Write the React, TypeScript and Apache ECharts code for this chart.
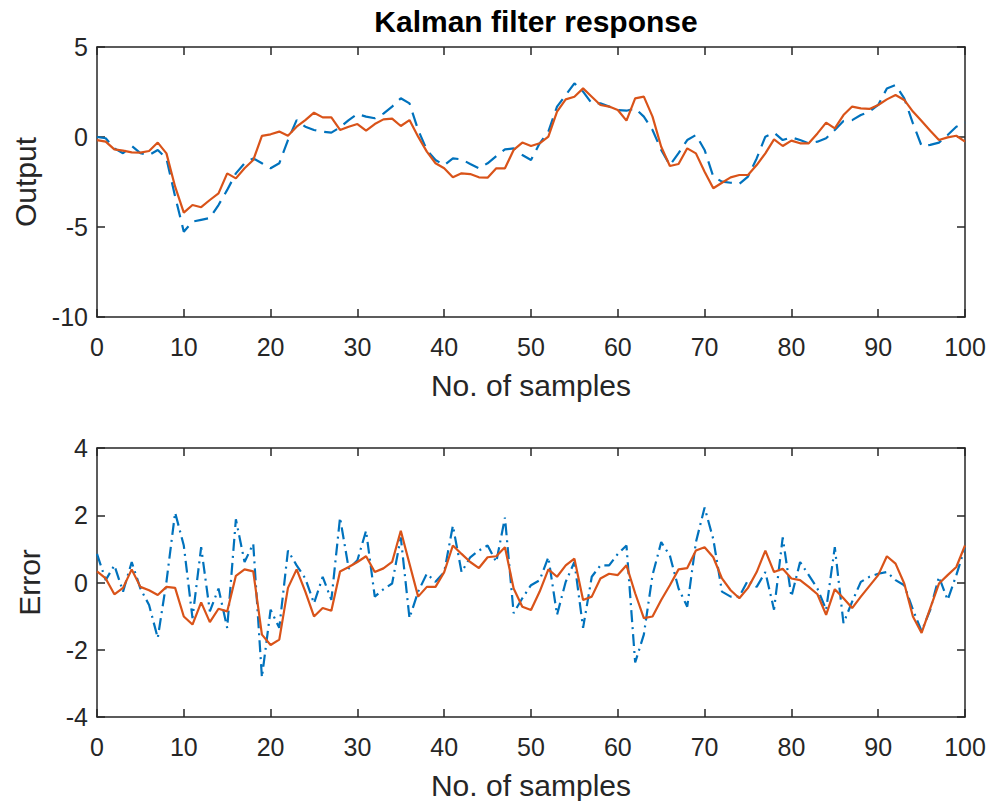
import React, { useEffect, useRef } from "react";
import * as echarts from "echarts";

// sample index 0..100
const samples: number[] = Array.from({ length: 101 }, (_, i) => i);

// Top panel: true output (blue dashed) and Kalman estimate (orange)
const outputTrue: number[] = [
  0.0, -0.07, -0.63, -0.9, -0.5, -0.9, -1.0, -0.72, -1.2, -3.3,
  -5.26, -4.7, -4.6, -4.5, -3.78, -2.94, -2.02, -1.46, -1.19, -1.46,
  -1.74, -1.46, -0.17, 0.94, 0.57, 0.39, 0.3, 0.24, 0.54, 0.94,
  1.28, 1.13, 1.04, 1.3, 1.69, 2.15, 1.87, 0.39, -0.72, -1.28,
  -1.56, -1.19, -1.24, -1.5, -1.74, -1.46, -1.06, -0.69, -0.63, -1.0,
  -1.28, -0.35, 0.3, 1.69, 2.33, 2.98, 2.52, 1.87, 1.87, 1.69,
  1.5, 1.46, 1.59, 1.13, 0.39, -0.72, -1.56, -0.9, -0.17, 0.11,
  -0.72, -2.2, -2.48, -2.54, -2.61, -2.2, -1.19, 0.02, 0.24, -0.17,
  -0.02, -0.17, -0.35, -0.26, -0.07, 0.39, 0.89, 0.94, 1.22, 1.41,
  1.78, 2.7, 2.89, 2.15, 0.76, -0.5, -0.44, -0.31, 0.11, 0.57,
  0.8,
];
const outputEst: number[] = [
  -0.17, -0.26, -0.69, -0.76, -0.85, -0.87, -0.78, -0.31, -0.91, -2.76,
  -4.2, -3.78, -3.9, -3.5, -3.13, -2.02, -2.3, -1.74, -1.28, 0.06,
  0.15, 0.3, 0.07, 0.57, 0.94, 1.35, 1.09, 1.09, 0.39, 0.57,
  0.72, 0.35, 0.72, 0.98, 1.02, 0.61, 0.94, 0.02, -0.81, -1.46,
  -1.74, -2.24, -2.02, -2.06, -2.24, -2.26, -1.74, -1.74, -0.72, -0.31,
  -0.5, -0.35, 0.02, 1.41, 2.09, 2.24, 2.7, 2.24, 1.78, 1.69,
  1.5, 0.91, 2.15, 2.24, 1.13, -0.54, -1.61, -1.5, -0.63, -0.91,
  -1.93, -2.85, -2.54, -2.24, -2.11, -2.11, -1.56, -0.91, -0.13, -0.5,
  -0.2, -0.35, -0.35, 0.2, 0.8, 0.48, 1.22, 1.69, 1.59, 1.56,
  1.78, 2.09, 2.33, 2.06, 1.41, 0.89, 0.35, -0.17, -0.02, 0.07,
  -0.26,
];

// Bottom panel: measurement error (blue dash-dot) and estimation error (orange)
const errorMeas: number[] = [
  0.85, 0.07, 0.51, -0.27, 0.61, -0.18, -0.67, -1.65, 0.02, 2.08,
  1.1, -1.06, 1.05, -0.86, -0.18, -1.35, 1.88, 0.61, 1.15, -2.82,
  -0.81, -1.35, 0.95, 0.51, 0.12, -0.62, 0.17, -0.52, 1.93, 0.41,
  0.66, 1.54, -0.42, -0.2, -0.03, 1.34, -1.06, -0.27, 0.26, 0.02,
  0.31, 1.69, 0.31, 0.75, 0.95, 1.1, 0.61, 1.93, -0.91, -0.47,
  -0.08, 0.07, 0.75, -0.96, 0.02, 0.61, -1.35, 0.17, 0.51, 0.51,
  0.85, 1.1, -2.38, -1.55, 0.22, 1.2, 0.8, -0.18, -0.72, 1.2,
  2.23, 1.29, -0.27, -0.42, -0.42, 0.07, -0.13, 0.31, -0.81, 1.34,
  -0.42, 0.61, 0.22, -0.18, -0.81, 1.05, -1.21, -0.57, 0.02, 0.17,
  0.26, 0.31, 0.07, -0.08, -0.81, -1.45, -0.81, 0.17, -0.52, 0.22,
  1.05,
];
const errorEst: number[] = [
  0.33, 0.12, -0.35, -0.16, 0.39, -0.13, -0.23, -0.37, -0.13, -0.16,
  -1.01, -1.25, -0.59, -1.18, -0.78, -0.86, 0.2, 0.39, 0.33, -1.55,
  -1.86, -1.7, -0.16, 0.39, -0.27, -1.01, -0.76, -0.84, 0.33, 0.46,
  0.61, 0.78, 0.31, 0.42, 0.61, 1.54, 0.56, -0.42, -0.13, -0.13,
  0.31, 1.1, 0.85, 0.61, 0.43, 0.75, 0.78, 1.05, -0.18, -0.72,
  -0.82, -0.27, 0.39, 0.17, 0.51, 0.71, -0.52, -0.42, 0.12, 0.26,
  0.22, 0.51, -0.32, -1.06, -1.01, -0.52, -0.08, 0.39, 0.43, 0.95,
  1.05, 0.75, 0.12, -0.23, -0.47, -0.16, 0.31, 0.95, 0.31, 0.41,
  0.12, 0.07, -0.13, -0.35, -0.96, -0.2, -0.47, -0.76, -0.42, -0.1,
  0.22, 0.78, 0.56, -0.03, -1.01, -1.5, -0.76, -0.03, 0.22, 0.46,
  1.1,
];

const titleText = "Kalman filter response";
const xName = "No. of samples";
const yNameTop = "Output";
const yNameBottom = "Error";

const BLUE = "#0072BD";
const ORANGE = "#D95319";
const AX = "#262626";
const FONT = "'Liberation Sans', Arial, Helvetica, sans-serif";

const TICK_FS = 25;
const NAME_FS = 30;
const TITLE_FS = 30;

function pairs(ys: number[]) {
  return samples.map((x, i) => [x, ys[i]]);
}

export default function App() {
  const ref = useRef<HTMLDivElement>(null);
  useEffect(() => {
    if (!ref.current) return;
    const chart = echarts.init(ref.current, undefined, { renderer: "svg" });

    const lineSt = { color: AX, width: 1.5 };
    const mainX = (gridIndex: number) => ({
      type: "value",
      gridIndex,
      min: 0,
      max: 100,
      interval: 10,
      position: "bottom",
      name: xName,
      nameLocation: "middle",
      nameGap: 53,
      nameTextStyle: { fontSize: NAME_FS, color: AX, fontFamily: FONT },
      axisLine: { show: true, onZero: false, lineStyle: lineSt },
      axisTick: { show: true, inside: true, length: 8, lineStyle: lineSt },
      axisLabel: { show: true, fontSize: TICK_FS, color: AX, fontFamily: FONT, margin: 17 },
      splitLine: { show: false },
    });
    const topX = (gridIndex: number) => ({
      type: "value",
      gridIndex,
      min: 0,
      max: 100,
      interval: 10,
      position: "top",
      axisLine: { show: true, onZero: false, lineStyle: lineSt },
      axisTick: { show: true, inside: true, length: 8, lineStyle: lineSt },
      axisLabel: { show: false },
      splitLine: { show: false },
    });
    const mainY = (gridIndex: number, min: number, max: number, interval: number, name: string) => ({
      type: "value",
      gridIndex,
      min,
      max,
      interval,
      position: "left",
      name,
      nameLocation: "middle",
      nameGap: 53,
      nameRotate: 90,
      nameTextStyle: { fontSize: NAME_FS, color: AX, fontFamily: FONT },
      axisLine: { show: true, onZero: false, lineStyle: lineSt },
      axisTick: { show: true, inside: true, length: 8, lineStyle: lineSt },
      axisLabel: { show: true, fontSize: TICK_FS, color: AX, fontFamily: FONT, margin: 9 },
      splitLine: { show: false },
    });
    const rightY = (gridIndex: number, min: number, max: number, interval: number) => ({
      type: "value",
      gridIndex,
      min,
      max,
      interval,
      position: "right",
      axisLine: { show: true, onZero: false, lineStyle: lineSt },
      axisTick: { show: true, inside: true, length: 8, lineStyle: lineSt },
      axisLabel: { show: false },
      splitLine: { show: false },
    });

    chart.setOption({
      animation: false,
      backgroundColor: "#ffffff",
      title: {
        text: titleText,
        left: 531,
        top: 1,
        textAlign: "center",
        textStyle: { fontSize: TITLE_FS, fontWeight: "bold", color: "#000", fontFamily: FONT },
      },
      grid: [
        { left: 97, top: 47, width: 868, height: 270 },
        { left: 97, top: 448, width: 868, height: 269 },
      ],
      xAxis: [mainX(0), topX(0), mainX(1), topX(1)],
      yAxis: [
        mainY(0, -10, 5, 5, yNameTop),
        rightY(0, -10, 5, 5),
        mainY(1, -4, 4, 2, yNameBottom),
        rightY(1, -4, 4, 2),
      ],
      series: [
        {
          type: "line",
          xAxisIndex: 0,
          yAxisIndex: 0,
          data: pairs(outputTrue),
          symbol: "none",
          lineStyle: { color: BLUE, width: 2.2, type: [14, 8] },
          z: 2,
        },
        {
          type: "line",
          xAxisIndex: 0,
          yAxisIndex: 0,
          data: pairs(outputEst),
          symbol: "none",
          lineStyle: { color: ORANGE, width: 2.2 },
          z: 3,
        },
        {
          type: "line",
          xAxisIndex: 2,
          yAxisIndex: 2,
          data: pairs(errorMeas),
          symbol: "none",
          lineStyle: { color: BLUE, width: 2.2, type: [12, 5, 2, 5] },
          z: 2,
        },
        {
          type: "line",
          xAxisIndex: 2,
          yAxisIndex: 2,
          data: pairs(errorEst),
          symbol: "none",
          lineStyle: { color: ORANGE, width: 2.2 },
          z: 3,
        },
      ],
    });
    return () => chart.dispose();
  }, []);

  return (
    <div
      ref={ref}
      style={{ position: "absolute", left: 0, top: 0, width: 991, height: 801, background: "#fff" }}
    />
  );
}
